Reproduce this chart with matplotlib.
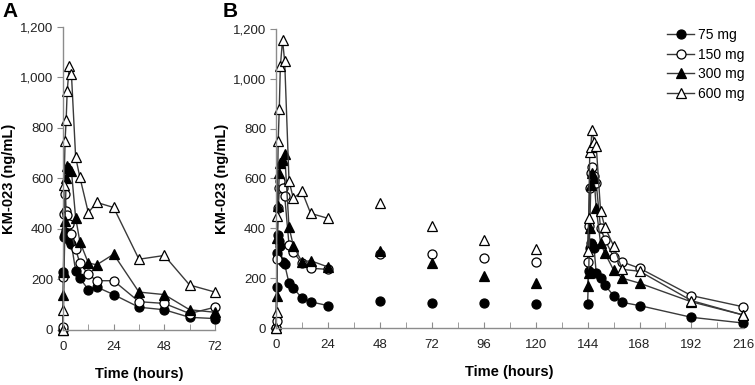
import numpy as np
import matplotlib
matplotlib.use("Agg")
import matplotlib.pyplot as plt
from matplotlib.ticker import FuncFormatter, MultipleLocator

plt.rcParams['font.family'] = ['Liberation Sans', 'DejaVu Sans']

doses = ["75 mg", "150 mg", "300 mg", "600 mg"]

# panel A: single dose
t_a = [0, 0.25, 0.5, 1, 1.5, 2, 3, 4, 6, 8, 12, 16, 24, 36, 48, 60, 72]
a_75 = [0, 230, 370, 380, 395, 375, 355, 340, 235, 205, 160, 170, 140, 90, 80, 50, 45]
a_150 = [10, 210, 460, 540, 470, 455, 420, 380, 320, 265, 220, 195, 195, 112, 105, 65, 90]
a_300 = [0, 140, 230, 430, 600, 650, 640, 630, 445, 350, 265, 258, 300, 150, 140, 80, 70]
a_600 = [0, 80, 575, 750, 830, 945, 1045, 1015, 685, 605, 465, 505, 485, 280, 295, 178, 150]

# panel B: first dose, troughs, last dose
t_b1 = [0, 0.25, 0.5, 1, 1.5, 2, 3, 4, 6, 8, 12, 16, 24]
b1_75 = [0, 165, 300, 375, 350, 330, 265, 255, 180, 160, 120, 105, 90]
b1_150 = [0, 30, 275, 480, 560, 590, 560, 530, 335, 305, 260, 240, 235]
b1_300 = [0, 130, 360, 490, 620, 660, 675, 700, 405, 330, 265, 270, 245]
b1_600 = [0, 65, 450, 750, 880, 1050, 1155, 1070, 590, 520, 548, 460, 440]

t_tr = [48, 72, 96, 120]
tr_75 = [110, 102, 99, 95]
tr_150 = [295, 295, 280, 265]
tr_300 = [310, 260, 210, 180]
tr_600 = [500, 410, 352, 317]

t_b2 = [144, 144.5, 145, 145.5, 146, 147, 148, 150, 152, 156, 160, 168, 192, 216]
b2_75 = [95, 230, 320, 340, 335, 320, 220, 200, 172, 130, 103, 90, 43, 20]
b2_150 = [265, 410, 560, 620, 645, 610, 580, 400, 355, 285, 265, 240, 130, 85]
b2_300 = [170, 220, 400, 575, 620, 600, 480, 340, 300, 233, 200, 180, 105, 52]
b2_600 = [310, 440, 705, 725, 795, 745, 730, 470, 405, 330, 235, 228, 110, 52]

styles = [dict(marker="o", mfc="black"), dict(marker="o", mfc="white"),
          dict(marker="^", mfc="black"), dict(marker="^", mfc="white")]
line_col = "#3a3a3a"
ax_col = "#8c8c8c"


def draw(ax, x, y, st, line=True, label=None):
    ax.plot(x, y, color=line_col, lw=1.0, ls="-" if line else "none",
            marker=st["marker"], mfc=st["mfc"], mec="black", mew=0.9,
            ms=6.5, clip_on=False, label=label)


def style_axes(ax, xmax):
    ax.set_xlim(0, xmax)
    ax.set_ylim(0, 1200)
    for s in ["top", "right"]:
        ax.spines[s].set_visible(False)
    for s in ["left", "bottom"]:
        ax.spines[s].set_color(ax_col)
        ax.spines[s].set_linewidth(1.0)
    ax.yaxis.set_major_locator(MultipleLocator(200))
    ax.yaxis.set_major_formatter(FuncFormatter(lambda v, p: f"{int(v):,}"))
    ax.xaxis.set_major_locator(MultipleLocator(24))
    ax.xaxis.set_minor_locator(MultipleLocator(12))
    ax.tick_params(axis="y", direction="out", length=4, color=ax_col,
                   labelsize=9.5, labelcolor="#222222", pad=3)
    ax.tick_params(axis="x", which="both", direction="in", length=4,
                   color=ax_col, labelsize=9.5, labelcolor="#222222", pad=8)
    ax.set_xlabel("Time (hours)", fontsize=10.5, fontweight="bold", labelpad=10)
    ax.set_ylabel("KM-023 (ng/mL)", fontsize=10.5, fontweight="bold", labelpad=3)


fig = plt.figure(figsize=(7.55, 3.85), dpi=100)
axA = fig.add_axes([0.0834, 0.143, 0.2013, 0.787])
axB = fig.add_axes([0.3656, 0.148, 0.619, 0.777])

series_a = [a_75, a_150, a_300, a_600]
for ys, st in zip(series_a, styles):
    draw(axA, t_a, ys, st)

series_b1 = [b1_75, b1_150, b1_300, b1_600]
series_tr = [tr_75, tr_150, tr_300, tr_600]
series_b2 = [b2_75, b2_150, b2_300, b2_600]
for i, st in enumerate(styles):
    draw(axB, t_b1, series_b1[i], st, label=doses[i])
    draw(axB, t_tr, series_tr[i], st, line=False)
    draw(axB, t_b2, series_b2[i], st)

style_axes(axA, 72)
style_axes(axB, 216)

axB.legend(loc="upper right", bbox_to_anchor=(1.02, 1.03), frameon=False,
           fontsize=10, handlelength=1.9, handletextpad=0.3, labelspacing=0.4,
           borderaxespad=0.2)

fig.text(0.003, 0.955, "A", fontsize=15, fontweight="bold")
fig.text(0.295, 0.955, "B", fontsize=15, fontweight="bold")

fig.savefig("out.png", dpi=100)
